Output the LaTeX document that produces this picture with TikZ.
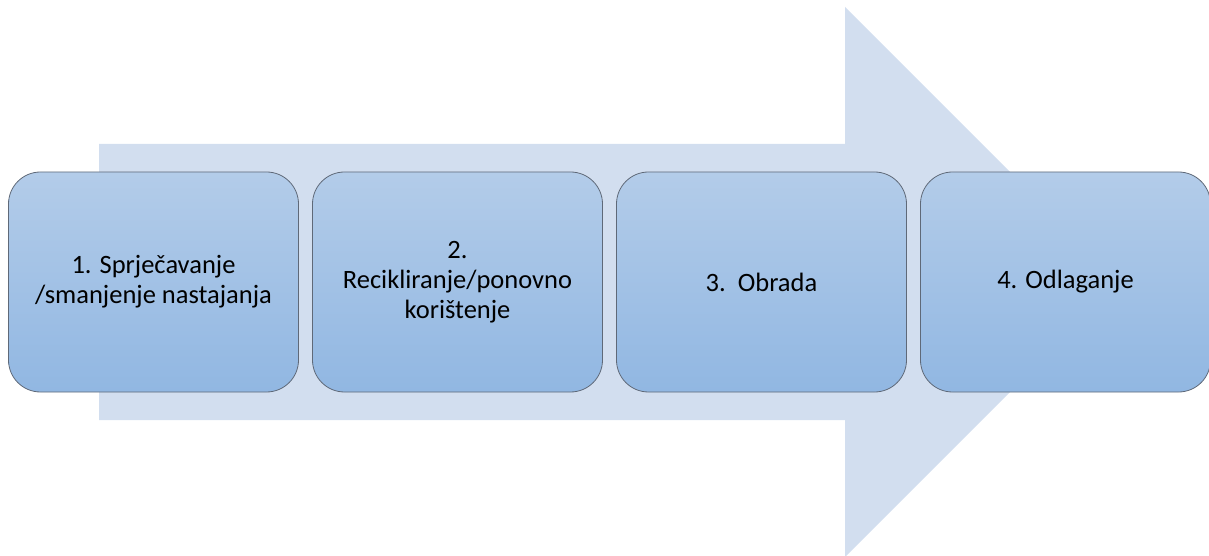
\documentclass[tikz,border=0pt]{standalone}
\usepackage{fontspec}
\setmainfont{Carlito}
\definecolor{arrowfill}{RGB}{210,222,239}
\definecolor{boxtop}{RGB}{179,204,233}
\definecolor{boxbot}{RGB}{145,183,226}
\definecolor{boxline}{RGB}{95,105,120}
\begin{document}
\begin{tikzpicture}[x=1bp,y=-1bp,
  stage/.style={draw=boxline, line width=0.8bp, rounded corners=32bp,
    top color=boxtop, bottom color=boxbot,
    minimum width=290bp, minimum height=220bp, inner sep=0pt,
    align=center, font=\fontsize{26.5bp}{30bp}\selectfont, text=black}]
\useasboundingbox (0,0) rectangle (1209,556);
\fill[arrowfill] (99,144) -- (845,144) -- (845,7) -- (1120,282) -- (845,557) -- (845,420) -- (99,420) -- cycle;
\node[stage] (s1) at (153.5,282) {1. Sprječavanje\\/smanjenje nastajanja};
\node[stage] (s2) at (457.5,282) {2.\\Recikliranje/ponovno\\korištenje};
\node[stage] (s3) at (761.5,282) {3.\ \ Obrada};
\node[stage] (s4) at (1065.5,282) {4. Odlaganje};
\end{tikzpicture}
\end{document}
